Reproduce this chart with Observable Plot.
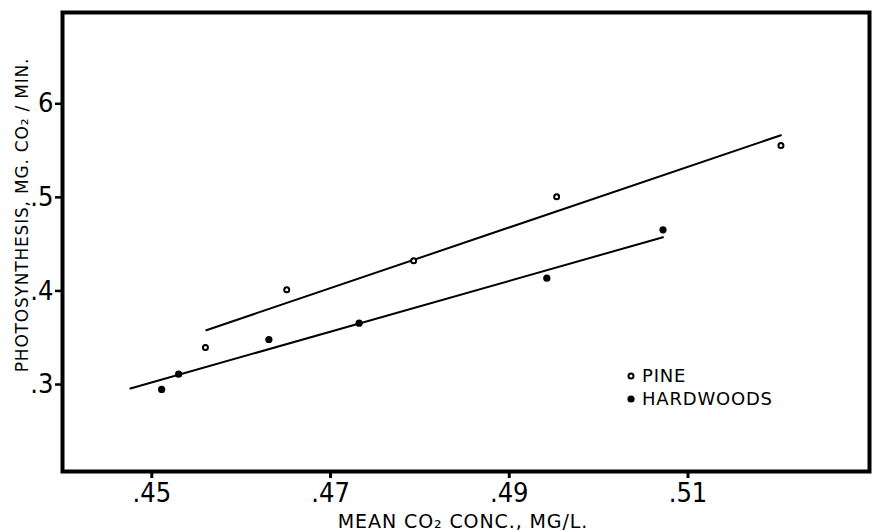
<!DOCTYPE html>
<html><head><meta charset="utf-8">
<script src="https://cdn.jsdelivr.net/npm/d3@7"></script>
<script src="https://cdn.jsdelivr.net/npm/@observablehq/plot@0.6"></script>
<style>
html,body{margin:0;padding:0;background:#fff;}
#wrap{position:relative;width:872px;height:532px;}
#legend{position:absolute;left:624px;top:364px;font-family:"DejaVu Sans",sans-serif;font-size:18px;letter-spacing:0.8px;color:#000;}
#legend .row{display:flex;align-items:center;height:23px;}
#legend svg{margin-right:4px;}
</style></head>
<body><div id="wrap"><div id="legend"></div></div>
<script>
// Data
const pineX = [0.4560, 0.4651, 0.4793, 0.4953, 0.5204];
const pineY = [0.3395, 0.4012, 0.4322, 0.5006, 0.5554];
const hardX = [0.4511, 0.4530, 0.4631, 0.4732, 0.4942, 0.5072];
const hardY = [0.2947, 0.3110, 0.3481, 0.3655, 0.4136, 0.4653];
const pineFitX = [0.4561, 0.5204];
const pineFitY = [0.3580, 0.5664];
const hardFitX = [0.4476, 0.5072];
const hardFitY = [0.2957, 0.4574];
const xTicks = [0.45, 0.47, 0.49, 0.51];
const xTickLabels = [".45", ".47", ".49", ".51"];
const yTicks = [0.3, 0.4, 0.5, 0.6];
const yTickLabels = [".3", ".4", ".5", "6"];
const seriesNames = ["PINE", "HARDWOODS"];
const xTitle = "MEAN CO\u2082 CONC., MG/L.";
const yTitle = "PHOTOSYNTHESIS, MG. CO\u2082 / MIN.";

const pine = pineX.map((x, i) => ({x, y: pineY[i]}));
const hard = hardX.map((x, i) => ({x, y: hardY[i]}));
const pineFit = pineFitX.map((x, i) => ({x, y: pineFitY[i]}));
const hardFit = hardFitX.map((x, i) => ({x, y: hardFitY[i]}));

const tickFont = '"Liberation Sans Narrow","DejaVu Sans Condensed",sans-serif';
const titleFont = '"DejaVu Sans",sans-serif';

const plot = Plot.plot({
  width: 872, height: 532,
  marginLeft: 62, marginRight: 3, marginTop: 12, marginBottom: 61,
  x: {domain: [0.45, 0.51], range: [151.3, 687.5]},
  y: {domain: [0.3, 0.6], range: [384, 103.3]},
  style: {background: "white", color: "black", fontFamily: tickFont},
  marks: [
    Plot.axisX({ticks: xTicks, tickFormat: d => xTickLabels[xTicks.indexOf(d)], tickSize: 7, tickPadding: 4, strokeWidth: 3, fontSize: 27, label: null}),
    Plot.axisY({ticks: yTicks, tickFormat: d => yTickLabels[yTicks.indexOf(d)], tickSize: 7, tickPadding: 2, strokeWidth: 2.5, fontSize: 27, label: null}),
    Plot.frame({stroke: "black", strokeWidth: 4}),
    Plot.line(pineFit, {x: "x", y: "y", stroke: "black", strokeWidth: 2}),
    Plot.line(hardFit, {x: "x", y: "y", stroke: "black", strokeWidth: 2}),
    Plot.dot(pine, {x: "x", y: "y", r: 2.5, stroke: "black", strokeWidth: 2, fill: "white"}),
    Plot.dot(hard, {x: "x", y: "y", r: 3.6, fill: "black", stroke: "none"}),
    Plot.text([xTitle], {text: d => d, frameAnchor: "bottom", lineAnchor: "middle", textAnchor: "middle", dx: -3, dy: 50, fontSize: 19, fontFamily: titleFont}),
    Plot.text([yTitle], {text: d => d, frameAnchor: "left", lineAnchor: "middle", textAnchor: "middle", rotate: -90, dx: -40, dy: -27, fontSize: 17, fontFamily: titleFont})
  ]
});

d3.select(plot).selectAll("text")
  .filter(function() { return this.textContent === xTitle; })
  .style("letter-spacing", "0.9px").style("font-weight", "500");
d3.select(plot).selectAll("text")
  .filter(function() { return this.textContent === yTitle; })
  .style("letter-spacing", "0.8px");

const wrap = document.getElementById("wrap");
wrap.insertBefore(plot, wrap.firstChild);

// Legend
const legend = d3.select("#legend");
seriesNames.forEach((name, i) => {
  const row = legend.append("div").attr("class", "row");
  const s = row.append("svg").attr("width", 14).attr("height", 14);
  if (i === 0) s.append("circle").attr("cx", 7).attr("cy", 7).attr("r", 2.5).attr("fill", "white").attr("stroke", "black").attr("stroke-width", 2);
  else s.append("circle").attr("cx", 7).attr("cy", 7).attr("r", 3.6).attr("fill", "black");
  row.append("span").text(name);
});
</script>
</body></html>
